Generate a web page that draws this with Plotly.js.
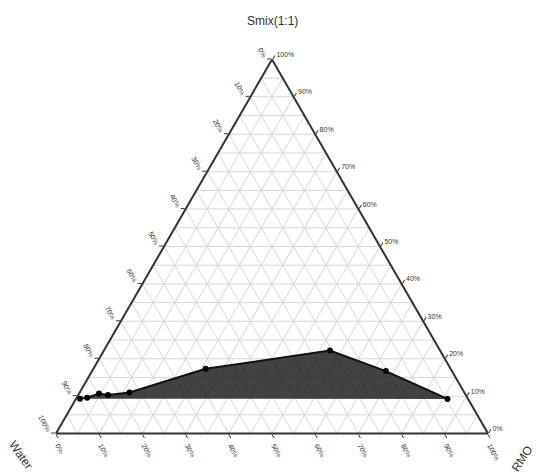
<!DOCTYPE html>
<html>
<head>
<meta charset="utf-8">
<script src="https://cdn.plot.ly/plotly-3.0.1.min.js"></script>
<style>html,body{margin:0;padding:0;background:#fff;}#chart{width:536px;height:475px;}</style>
</head>
<body>
<div id="chart"></div>
<script>
// Boundary points (percent)
const smix  = [9.3, 9.6, 10.7, 10.3, 11.0, 17.3, 22.2, 16.7, 9.25];
const water = [89.8, 88.0, 84.7, 82.8, 77.5, 56.7, 25.5, 15.3, 4.75];
const rmo   = [0.9, 2.4, 4.6, 6.9, 11.5, 26.0, 52.3, 68.0, 86.0];

const majorTicks = [0,10,20,30,40,50,60,70,80,90,100];
const tickLabels = ['100%','90%','80%','70%','60%','50%','40%','30%','20%','10%','0%'];
const minorGrid = [5,15,25,35,45,55,65,75,85,95];

const traces = [];
// minor gridlines every 10% offset by 5
minorGrid.forEach(v => {
  traces.push({type:'scatterternary', mode:'lines', a:[v,v], b:[100-v,0], c:[0,100-v],
    line:{color:'#d6d6d6', width:1}, hoverinfo:'skip', showlegend:false});
  traces.push({type:'scatterternary', mode:'lines', b:[v,v], a:[100-v,0], c:[0,100-v],
    line:{color:'#d6d6d6', width:1}, hoverinfo:'skip', showlegend:false});
  traces.push({type:'scatterternary', mode:'lines', c:[v,v], a:[100-v,0], b:[0,100-v],
    line:{color:'#d6d6d6', width:1}, hoverinfo:'skip', showlegend:false});
});

traces.push({
  type:'scatterternary', mode:'lines+markers',
  a: smix, b: water, c: rmo,
  fill:'toself', fillcolor:'rgba(45,45,45,0.9)',
  line:{color:'#111', width:2},
  marker:{color:'#000', size:6},
  showlegend:false
});

const axisBase = {
  min:0, linecolor:'#333', linewidth:2, gridcolor:'#d6d6d6', gridwidth:1,
  tickmode:'array', tickvals: majorTicks, ticktext: tickLabels,
  ticks:'outside', ticklen:4, tickcolor:'#333',
  tickfont:{family:'Liberation Sans, Arial, sans-serif', size:7, color:'#333'},
  title:{text:''}
};

const layout = {
  width:536, height:475,
  margin:{l:56, r:48, t:59, b:41},
  paper_bgcolor:'#fff',
  showlegend:false,
  ternary:{
    sum:100,
    bgcolor:'#fff',
    domain:{x:[0,1], y:[0,1]},
    aaxis: Object.assign({}, axisBase, {tickangle:62}),
    baxis: Object.assign({}, axisBase, {tickangle:62}),
    caxis: Object.assign({}, axisBase, {tickangle:0})
  },
  annotations:[
    {text:'Smix(1:1)', xref:'paper', yref:'paper', x:0.5, y:1, xanchor:'center', yanchor:'bottom',
     xshift:0, yshift:29, showarrow:false, font:{family:'Liberation Sans, Arial, sans-serif', size:12, color:'#333'}},
    {text:'Water', xref:'paper', yref:'paper', x:0, y:0, showarrow:false, textangle:55,
     xshift:-53, yshift:-41, font:{family:'Liberation Sans, Arial, sans-serif', size:12, color:'#333'}},
    {text:'RMO', xref:'paper', yref:'paper', x:1, y:0, showarrow:false, textangle:-57,
     xshift:50, yshift:-43, font:{family:'Liberation Sans, Arial, sans-serif', size:12, color:'#333'}}
  ]
};

Plotly.newPlot('chart', traces, layout, {staticPlot:true, displayModeBar:false});
</script>
</body>
</html>
